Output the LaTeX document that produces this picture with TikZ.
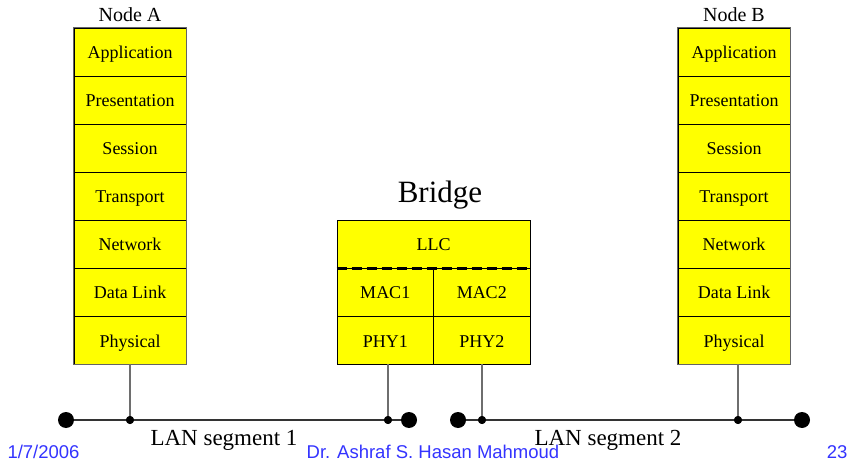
\documentclass[tikz,border=0pt]{standalone}
\usepackage{fontspec}
\setmainfont{Liberation Serif}
\newfontfamily\footfont{Liberation Sans}
\definecolor{footblue}{RGB}{51,51,255}
\definecolor{layeryellow}{RGB}{255,255,0}
\definecolor{edgegray}{RGB}{100,100,100}
\definecolor{dropgray}{RGB}{110,110,110}
\tikzset{
  layer/.style={draw=black, line width=0.9pt, fill=layeryellow, minimum width=112pt,
    minimum height=48pt, inner sep=0pt, text height=14pt, text depth=0pt,
    font=\fontsize{18}{18}\selectfont},
  half/.style={layer, minimum width=96.5pt},
  frame/.style={draw=edgegray, line width=1.3pt},
  drop/.style={draw=dropgray, line width=1.2pt},
  bus/.style={draw=black!80, line width=1.2pt},
  bigdot/.style={circle, fill=black, minimum size=16pt, inner sep=0pt},
  tap/.style={circle, fill=black, minimum size=8pt, inner sep=0pt},
  title/.style={font=\fontsize{20}{20}\selectfont},
  seglabel/.style={font=\fontsize{23}{23}\selectfont},
  foot/.style={font=\footfont\fontsize{18.5}{18.5}\selectfont, text=footblue}
}
\begin{document}
\begin{tikzpicture}[x=1pt, y=-1pt]
\useasboundingbox (0,0) rectangle (854,462);

% Node A protocol stack
\node[title] (tA) at (130,15) {Node A};
\node[layer] (a1) at (130,52) {Application};
\node[layer] (a2) at (130,100) {Presentation};
\node[layer] (a3) at (130,148) {Session};
\node[layer] (a4) at (130,196) {Transport};
\node[layer] (a5) at (130,244) {Network};
\node[layer] (a6) at (130,292) {Data Link};
\node[layer] (a7) at (130,340) {Physical};
\draw[frame] (a1.north west) rectangle (a7.south east);

% Node B protocol stack
\node[title] (tB) at (734,15) {Node B};
\node[layer] (b1) at (734,52) {Application};
\node[layer] (b2) at (734,100) {Presentation};
\node[layer] (b3) at (734,148) {Session};
\node[layer] (b4) at (734,196) {Transport};
\node[layer] (b5) at (734,244) {Network};
\node[layer] (b6) at (734,292) {Data Link};
\node[layer] (b7) at (734,340) {Physical};
\draw[frame] (b1.north west) rectangle (b7.south east);

% Bridge
\node[font=\fontsize{31}{31}\selectfont] (tBr) at (440,195) {Bridge};
\node[layer, minimum width=193pt] (llc) at (433.5,244) {LLC};
\node[half] (mac1) at (385.25,292) {MAC1};
\node[half] (mac2) at (481.75,292) {MAC2};
\node[half] (phy1) at (385.25,340) {PHY1};
\node[half] (phy2) at (481.75,340) {PHY2};
\draw[black, line width=3pt, dash pattern=on 10pt off 5pt] (llc.south west) -- (llc.south east);

% LAN segments
\node[bigdot] (e1) at (66,420) {};
\node[bigdot] (e2) at (409,420) {};
\node[bigdot] (e3) at (458,420) {};
\node[bigdot] (e4) at (802,420) {};
\node[tap] (t1) at (130,420) {};
\node[tap] (t2) at (388,420) {};
\node[tap] (t3) at (482,420) {};
\node[tap] (t4) at (738,420) {};
\draw[bus] (e1) -- (e2);
\draw[bus] (e3) -- (e4);
\draw[drop] (a7.south) -- (t1);
\draw[drop] (t2 |- phy1.south) -- (t2);
\draw[drop] (t3 |- phy2.south) -- (t3);
\draw[drop] (t4 |- b7.south) -- (t4);
\node[tap] at (t1) {};
\node[tap] at (t2) {};
\node[tap] at (t3) {};
\node[tap] at (t4) {};

% Footer
\node[foot, anchor=west] (date) at (4,452) {1/7/2006};
\node[foot] (author) at (433,452) {Dr. Ashraf S. Hasan Mahmoud};
\node[foot, anchor=east] (page) at (851,452) {23};
\node[seglabel] (l1) at (224,440) {LAN segment 1};
\node[seglabel] (l2) at (608,440) {LAN segment 2};
\end{tikzpicture}
\end{document}
